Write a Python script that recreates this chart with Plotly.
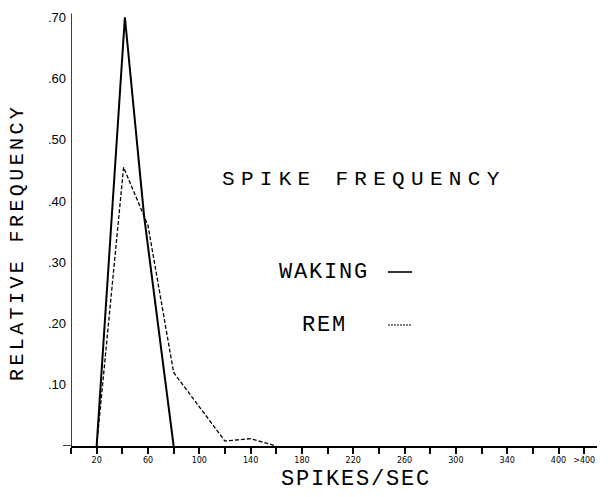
import plotly.graph_objects as go

# ---- data ----
waking_x = [20, 42, 57, 80]
waking_y = [0.0, 0.70, 0.375, 0.0]
rem_x = [20, 41, 60, 80, 120, 140, 160]
rem_y = [0.0, 0.455, 0.36, 0.12, 0.008, 0.012, 0.0]

y_tick_vals = [0.10, 0.20, 0.30, 0.40, 0.50, 0.60, 0.70]
y_tick_text = [".10", ".20", ".30", ".40", ".50", ".60", ".70"]
x_tick_vals = list(range(0, 401, 20))
x_tick_text = ["", "20", "", "60", "", "100", "", "140", "", "180", "",
               "220", "", "260", "", "300", "", "340", "", "400", ">400"]

title_text = "SPIKE FREQUENCY"
x_title = "SPIKES/SEC"
y_title = "RELATIVE FREQUENCY"
series_names = ["WAKING", "REM"]

# ---- layout constants ----
W, H = 615, 497
ML, MR, MT, MB = 71, 18, 5, 51
X_RANGE = [0, 410]
Y_RANGE = [0, 0.72]
MONO = "Liberation Mono"


def spaced(s, px):
    return f'<span style="letter-spacing:{px}px">{s}</span>'


fig = go.Figure()
fig.add_trace(go.Scatter(x=waking_x, y=waking_y, mode="lines", name=series_names[0],
                         line=dict(color="black", width=2), showlegend=False))
fig.add_trace(go.Scatter(x=rem_x, y=rem_y, mode="lines", name=series_names[1],
                         line=dict(color="black", width=1.3, dash="4px,2px"), showlegend=False))

pw = W - ML - MR
ph = H - MT - MB


def px_x(p):
    return (p - ML) / pw


def px_y(p):
    return 1 - (p - MT) / ph


shapes = []
# x-axis line extension to the left of the y-axis
shapes.append(dict(type="line", xref="paper", yref="y", x0=px_x(63), x1=0, y0=0, y1=0,
                   line=dict(color="black", width=1.5)))
# y-axis line, slightly below the x-axis
shapes.append(dict(type="line", xref="x", yref="y", x0=0, x1=0, y0=-0.008, y1=0.706,
                   line=dict(color="black", width=1.5)))
# legend sample lines
shapes.append(dict(type="line", xref="paper", yref="paper",
                   x0=px_x(388), x1=px_x(412), y0=px_y(272), y1=px_y(272),
                   line=dict(color="black", width=1.6)))
shapes.append(dict(type="line", xref="paper", yref="paper",
                   x0=px_x(388), x1=px_x(412), y0=px_y(325), y1=px_y(325),
                   line=dict(color="black", width=1, dash="2px,1px")))

annotations = [
    dict(text=spaced(title_text, 6.3), x=px_x(364), y=px_y(180), xref="paper", yref="paper",
         showarrow=False, font=dict(family=MONO, size=21, color="black"),
         xanchor="center", yanchor="middle"),
    dict(text=spaced(series_names[0], 1.8), x=px_x(324), y=px_y(272.5), xref="paper", yref="paper",
         showarrow=False, font=dict(family=MONO, size=22, color="black"),
         xanchor="center", yanchor="middle"),
    dict(text=spaced(series_names[1], 1.8), x=px_x(324), y=px_y(325.5), xref="paper", yref="paper",
         showarrow=False, font=dict(family=MONO, size=22, color="black"),
         xanchor="center", yanchor="middle"),
    dict(text=spaced(x_title, 1.8), x=px_x(356), y=px_y(479), xref="paper", yref="paper",
         showarrow=False, font=dict(family=MONO, size=22, color="black"),
         xanchor="center", yanchor="middle"),
    dict(text=spaced(y_title, 3.4), x=px_x(17), y=px_y(243), xref="paper", yref="paper",
         showarrow=False, textangle=-90, font=dict(family=MONO, size=20, color="black"),
         xanchor="center", yanchor="middle"),
]

fig.update_layout(
    width=W, height=H,
    margin=dict(l=ML, r=MR, t=MT, b=MB, pad=0),
    paper_bgcolor="white", plot_bgcolor="white",
    showlegend=False,
    shapes=shapes,
    annotations=annotations,
    xaxis=dict(range=X_RANGE, showgrid=False, zeroline=False, showline=True,
               linecolor="black", linewidth=1.5,
               tickmode="array", tickvals=x_tick_vals, ticktext=x_tick_text,
               ticks="outside", ticklen=6, tickwidth=1.5, tickcolor="black",
               tickfont=dict(family="DejaVu Sans", size=8, color="black")),
    yaxis=dict(range=Y_RANGE, showgrid=False, zeroline=False, showline=False,
               tickmode="array", tickvals=y_tick_vals, ticktext=y_tick_text,
               ticks="", ticklabelstandoff=4,
               tickfont=dict(family="Liberation Sans", size=13, color="black")),
)

fig.write_html("out.html")
